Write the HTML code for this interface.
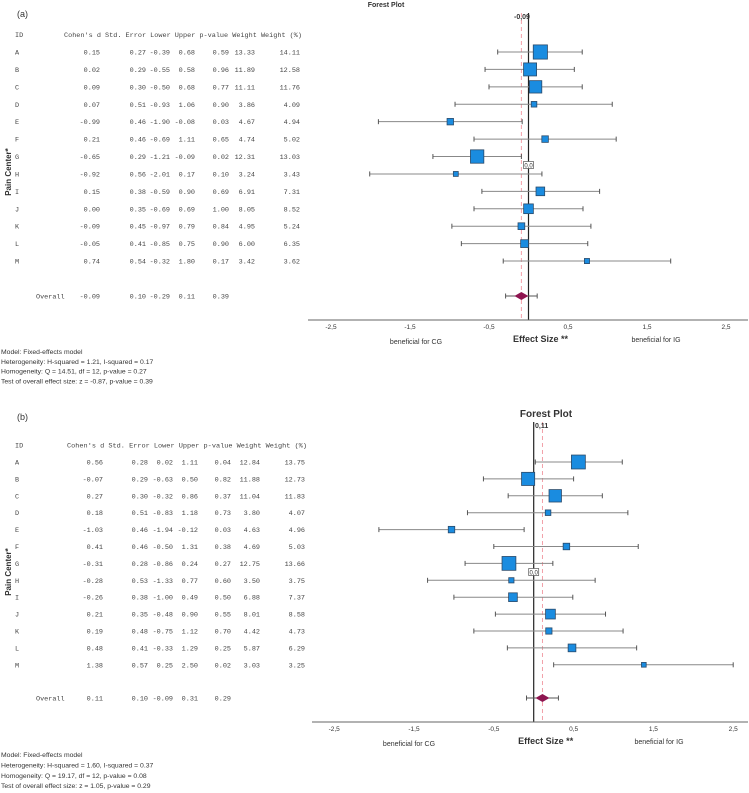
<!DOCTYPE html>
<html><head><meta charset="utf-8"><style>
html,body{margin:0;padding:0;background:#fff;}
svg{display:block;}
.mono{font-family:"Liberation Mono",monospace;fill:#444;}
.sans{font-family:"Liberation Sans",sans-serif;fill:#333;}
</style></head><body>
<svg id="chart" width="749" height="793" viewBox="0 0 749 793" xmlns="http://www.w3.org/2000/svg"></svg>
<script>
// ---- Panel (a) data ----
const idsA = ["A","B","C","D","E","F","G","H","I","J","K","L","M"];
const dA = [0.15,0.02,0.09,0.07,-0.99,0.21,-0.65,-0.92,0.15,0.00,-0.09,-0.05,0.74];
const seA = [0.27,0.29,0.30,0.51,0.46,0.46,0.29,0.56,0.38,0.35,0.45,0.41,0.54];
const loA = [-0.39,-0.55,-0.50,-0.93,-1.90,-0.69,-1.21,-2.01,-0.59,-0.69,-0.97,-0.85,-0.32];
const hiA = [0.68,0.58,0.68,1.06,-0.08,1.11,-0.09,0.17,0.90,0.69,0.79,0.75,1.80];
const pA = [0.59,0.96,0.77,0.90,0.03,0.65,0.02,0.10,0.69,1.00,0.84,0.90,0.17];
const wA = [13.33,11.89,11.11,3.86,4.67,4.74,12.31,3.24,6.91,8.05,4.95,6.00,3.42];
const wpA = [14.11,12.58,11.76,4.09,4.94,5.02,13.03,3.43,7.31,8.52,5.24,6.35,3.62];
const overallA = [-0.09,0.10,-0.29,0.11,0.39];
const footA = ["Model: Fixed-effects model","Heterogeneity: H-squared = 1.21, I-squared = 0.17","Homogeneity: Q = 14.51, df = 12, p-value = 0.27","Test of overall effect size: z = -0.87, p-value = 0.39"];
// ---- Panel (b) data ----
const idsB = ["A","B","C","D","E","F","G","H","I","J","K","L","M"];
const dB = [0.56,-0.07,0.27,0.18,-1.03,0.41,-0.31,-0.28,-0.26,0.21,0.19,0.48,1.38];
const seB = [0.28,0.29,0.30,0.51,0.46,0.46,0.28,0.53,0.38,0.35,0.48,0.41,0.57];
const loB = [0.02,-0.63,-0.32,-0.83,-1.94,-0.50,-0.86,-1.33,-1.00,-0.48,-0.75,-0.33,0.25];
const hiB = [1.11,0.50,0.86,1.18,-0.12,1.31,0.24,0.77,0.49,0.90,1.12,1.29,2.50];
const pB = [0.04,0.82,0.37,0.73,0.03,0.38,0.27,0.60,0.50,0.55,0.70,0.25,0.02];
const wB = [12.84,11.88,11.04,3.80,4.63,4.69,12.75,3.50,6.88,8.01,4.42,5.87,3.03];
const wpB = [13.75,12.73,11.83,4.07,4.96,5.03,13.66,3.75,7.37,8.58,4.73,6.29,3.25];
const overallB = [0.11,0.10,-0.09,0.31,0.29];
const footB = ["Model: Fixed-effects model","Heterogeneity: H-squared = 1.60, I-squared = 0.37","Homogeneity: Q = 19.17, df = 12, p-value = 0.08","Test of overall effect size: z = 1.05, p-value = 0.29"];
const ticks = [-2.5,-1.5,-0.5,0.5,1.5,2.5];
const tickLabels = ["-2,5","-1,5","-0,5","0,5","1,5","2,5"];

const NS="http://www.w3.org/2000/svg";
const svg=document.getElementById('chart');
function mk(tag,attrs,parent){const e=document.createElementNS(NS,tag);for(const k in attrs)e.setAttribute(k,attrs[k]);(parent||svg).appendChild(e);return e;}
function txt(s,attrs,parent){const e=mk('text',attrs,parent);e.textContent=s;return e;}
function f2(v){return v.toFixed(2);}

function panel(cfg){
  const g=mk('g',{});
  
  
  const x=v=>cfg.x0+v*cfg.ux;
  const y=i=>cfg.rowY0+i*cfg.rowStep;
  const lab=txt(cfg.label,{x:17,y:cfg.labelY,'font-size':9,class:'sans'},g);
  
  
  const hdr=txt("Cohen's d Std. Error Lower Upper p-value Weight Weight (%)",{x:cfg.hx,y:cfg.rowY0-cfg.rowStep+2.5,'font-size':6.8,class:'mono',textLength:cfg.hw,lengthAdjust:'spacingAndGlyphs'},g);
  
  
  const idh=txt("ID",{x:15,y:cfg.rowY0-cfg.rowStep+2.5,'font-size':6.8,class:'mono'},g);
  
  
  const c=cfg.cols;
  for(let i=0;i<cfg.ids.length;i++){
    const yy=y(i)+2.5;
    const row=mk('g',{},g);
    
    
    txt(cfg.ids[i],{x:15,y:yy,'font-size':6.8,class:'mono'},row);
    const vals=[f2(cfg.d[i]),f2(cfg.se[i]),f2(cfg.lo[i]),f2(cfg.hi[i]),f2(cfg.p[i]),f2(cfg.w[i]),f2(cfg.wp[i])];
    vals.forEach((v,j)=>txt(v,{x:c[j],y:yy,'font-size':6.8,class:'mono','text-anchor':'end'},row));
  }
  const oy=cfg.overallY+2.5;
  const orow=mk('g',{},g);
  
  
  txt("Overall",{x:36,y:oy,'font-size':6.8,class:'mono'},orow);
  cfg.ov.forEach((v,j)=>txt(f2(v),{x:c[j],y:oy,'font-size':6.8,class:'mono','text-anchor':'end'},orow));
  const pc=txt("Pain Center*",{x:0,y:0,'font-size':8,'font-weight':'bold',class:'sans','text-anchor':'middle',transform:`translate(11,${cfg.pcY}) rotate(-90)`},g);
  
  
  const t=txt("Forest Plot",{x:cfg.titleX,y:cfg.titleY,'font-size':cfg.titleSize,'font-weight':'bold',class:'sans','text-anchor':'middle'},g);
  
  
  const dl=mk('line',{x1:x(cfg.ov[0]),x2:x(cfg.ov[0]),y1:cfg.vTop,y2:cfg.axisY,stroke:'#f2a0a8','stroke-width':1,'stroke-dasharray':'4,3'},g);
  
  
  const nl=mk('line',{x1:x(0),x2:x(0),y1:cfg.vTop,y2:cfg.axisY,stroke:'#222','stroke-width':1.2},g);
  
  
  const ovl=txt(cfg.ovText,{x:cfg.ovTextX,y:cfg.vTop+6,'font-size':7,'font-weight':'bold',class:'sans'},g);
  
  
  for(let i=0;i<cfg.ids.length;i++){
    const yy=y(i);
    const r=mk('g',{},g);
    
    
    mk('line',{x1:x(cfg.lo[i]),x2:x(cfg.hi[i]),y1:yy,y2:yy,stroke:'#888','stroke-width':1},r);
    mk('line',{x1:x(cfg.lo[i]),x2:x(cfg.lo[i]),y1:yy-2.5,y2:yy+2.5,stroke:'#555','stroke-width':1},r);
    mk('line',{x1:x(cfg.hi[i]),x2:x(cfg.hi[i]),y1:yy-2.5,y2:yy+2.5,stroke:'#555','stroke-width':1},r);
    const s=1.95*Math.pow(cfg.wp[i],0.75);
    mk('rect',{x:x(cfg.d[i])-s/2,y:yy-s/2,width:s,height:s,fill:'#1a8ce0',stroke:'#2a4a6a','stroke-width':0.8},r);
  }
  const zb=mk('g',{},g);
  
  
  mk('rect',{x:x(0)-5,y:cfg.zeroY-3.5,width:10,height:7,fill:'#fff',stroke:'#555','stroke-width':0.7},zb);
  txt("0,0",{x:x(0),y:cfg.zeroY+2.3,'font-size':6,class:'sans','text-anchor':'middle'},zb);
  const od=mk('g',{},g);
  
  
  const oyy=cfg.overallY, oc=x(cfg.ov[0]);
  mk('line',{x1:x(cfg.ov[2]),x2:x(cfg.ov[3]),y1:oyy,y2:oyy,stroke:'#555','stroke-width':1},od);
  mk('line',{x1:x(cfg.ov[2]),x2:x(cfg.ov[2]),y1:oyy-2.5,y2:oyy+2.5,stroke:'#555'},od);
  mk('line',{x1:x(cfg.ov[3]),x2:x(cfg.ov[3]),y1:oyy-2.5,y2:oyy+2.5,stroke:'#555'},od);
  mk('polygon',{points:`${oc-7},${oyy} ${oc},${oyy-4} ${oc+7},${oyy} ${oc},${oyy+4}`,fill:'#8e1550'},od);
  const ax=mk('g',{},g);
  
  
  mk('line',{x1:cfg.axX1,x2:748,y1:cfg.axisY,y2:cfg.axisY,stroke:'#666','stroke-width':1},ax);
  ticks.forEach((v,k)=>txt(tickLabels[k],{x:x(v),y:cfg.axisY+9,'font-size':6.5,class:'sans','text-anchor':'middle'},ax));
  const xt=txt("Effect Size **",{x:cfg.x0+12,y:cfg.axisY+22,'font-size':9,'font-weight':'bold',class:'sans','text-anchor':'middle'},g);
  
  
  const cg=txt("beneficial for CG",{x:cfg.cgX,y:cfg.axisY+24,'font-size':7,class:'sans','text-anchor':'middle'},g);
  
  
  const ig=txt("beneficial for IG",{x:cfg.igX,y:cfg.axisY+22,'font-size':7,class:'sans','text-anchor':'middle'},g);
  
  
  const ft=mk('g',{},g);
  
  
  cfg.foot.forEach((s,k)=>txt(s,{x:1,y:cfg.footY+k*cfg.footStep,'font-size':6.8,class:'sans'},ft));
}

panel({name:'panel-a',label:'(a)',labelY:17,ids:idsA,d:dA,se:seA,lo:loA,hi:hiA,p:pA,w:wA,wp:wpA,ov:overallA,foot:footA,
  x0:528.5,ux:79,rowY0:52,rowStep:17.42,overallY:296,hx:64,hw:238,cols:[100,146,170,195,229,255,300],
  pcY:172,titleX:386,titleY:7,titleSize:7,vTop:13,axisY:320,ovText:'-0,09',ovTextX:514,zeroY:165,
  axX1:308,cgX:416,igX:656,footY:354,footStep:9.8});
panel({name:'panel-b',label:'(b)',labelY:420,ids:idsB,d:dB,se:seB,lo:loB,hi:hiB,p:pB,w:wB,wp:wpB,ov:overallB,foot:footB,
  x0:533.7,ux:79.8,rowY0:462,rowStep:16.9,overallY:698,hx:67,hw:240,cols:[103,148,173,198,231,260,305],
  pcY:572,titleX:546,titleY:417,titleSize:10,vTop:422,axisY:722,ovText:'0,11',ovTextX:535,zeroY:572,
  axX1:312,cgX:409,igX:659,footY:757,footStep:10.4});
</script>
</body></html>
